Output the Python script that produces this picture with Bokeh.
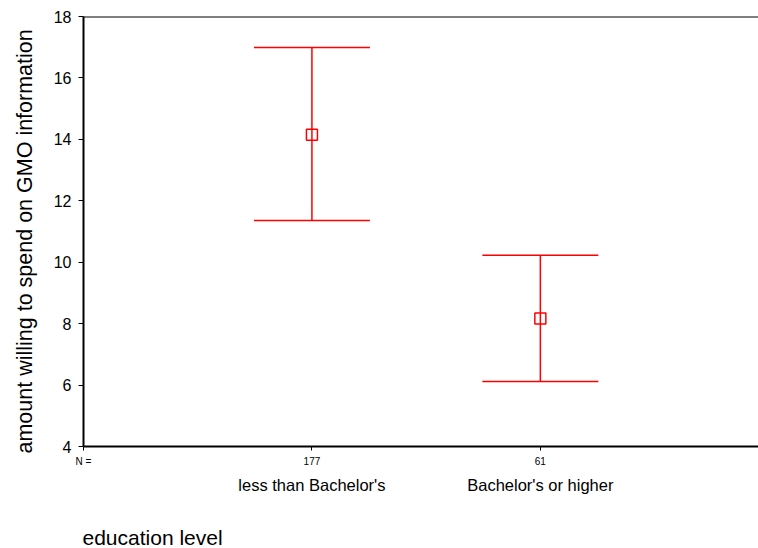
from bokeh.plotting import figure
from bokeh.models import (ColumnDataSource, Whisker, TeeHead, LinearAxis, FixedTicker,
                          Span, Title, Range1d)
from bokeh.embed import file_html
from bokeh.resources import INLINE

# data
categories = ["less than Bachelor's", "Bachelor's or higher"]
n_counts = ["177", "61"]
positions = [1, 2]
means = [14.15, 8.17]
upper = [16.99, 10.23]
lower = [11.36, 6.12]
y_ticks = [4, 6, 8, 10, 12, 14, 16, 18]

FONT = "Liberation Sans"
W, H = 758, 548

p = figure(width=W, height=H, output_backend="svg", toolbar_location=None,
           x_range=Range1d(0, 2.955), y_range=Range1d(4, 18),
           min_border_left=83, min_border_top=16, min_border_right=0, min_border_bottom=102,
           x_axis_location=None)
p.grid.visible = False
p.outline_line_color = None
p.background_fill_color = "white"

# y axis
ya = p.yaxis[0]
ya.ticker = FixedTicker(ticks=y_ticks)
ya.axis_line_width = 2
ya.axis_line_color = "black"
ya.major_tick_out = 5
ya.major_tick_in = 0
ya.minor_tick_line_color = None
ya.major_label_text_font = FONT
ya.major_label_text_font_size = "16px"
ya.major_label_text_color = "black"
ya.major_label_standoff = 7

# bottom axis with N counts
ax1 = LinearAxis(ticker=FixedTicker(ticks=[0] + positions),
                 major_label_overrides={0: "N =", **{pos: n for pos, n in zip(positions, n_counts)}})
ax1.axis_line_width = 2
ax1.axis_line_color = "black"
ax1.major_tick_out = 4
ax1.major_tick_in = 0
ax1.minor_tick_line_color = None
ax1.major_label_text_font = FONT
ax1.major_label_text_font_size = "10px"
ax1.major_label_text_color = "black"
ax1.major_label_standoff = 5
p.add_layout(ax1, "below")

# category names axis (a blank axis label adds the gap above the x title)
ax2 = LinearAxis(ticker=FixedTicker(ticks=positions),
                 major_label_overrides={pos: c for pos, c in zip(positions, categories)})
ax2.axis_line_color = None
ax2.major_tick_line_color = None
ax2.major_tick_out = 0
ax2.major_tick_in = 0
ax2.minor_tick_line_color = None
ax2.major_label_text_font = FONT
ax2.major_label_text_font_size = "16.5px"
ax2.major_label_text_color = "black"
ax2.major_label_standoff = 6
ax2.axis_label = "\u00a0"
ax2.axis_label_text_font_size = "1px"
ax2.axis_label_standoff = 23
p.add_layout(ax2, "below")

# axis titles
p.add_layout(Title(text="education level", align="left", offset=-1,
                   vertical_align="bottom",
                   text_font=FONT, text_font_size="21px", text_font_style="normal",
                   text_color="black", standoff=0), "below")
p.add_layout(Title(text="amount willing to spend on GMO information", align="left",
                   offset=-7, vertical_align="top", text_font=FONT,
                   text_font_size="21.5px", text_font_style="normal",
                   text_color="black", standoff=24), "left")

# top border line
p.add_layout(Span(location=18, dimension="width", line_color="black", line_width=2))

src = ColumnDataSource(data=dict(x=positions, mean=means, upper=upper, lower=lower))
w = Whisker(source=src, base="x", upper="upper", lower="lower",
            line_color="#ff0000", line_width=1.5,
            upper_head=TeeHead(size=116, line_color="#ff0000", line_width=1.5),
            lower_head=TeeHead(size=116, line_color="#ff0000", line_width=1.5))
p.add_layout(w)
p.scatter("x", "mean", source=src, marker="square", size=11,
          fill_color=None, line_color="#ff0000", line_width=1.5)

open("out.html", "w").write(file_html(p, INLINE))
